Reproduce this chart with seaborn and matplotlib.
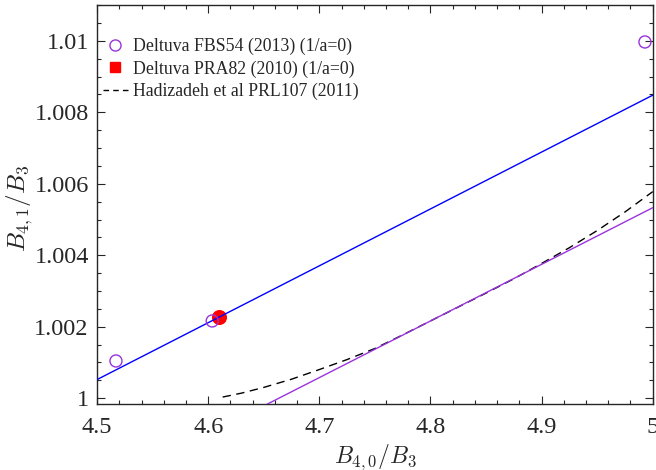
import numpy as np
import pandas as pd
import matplotlib
matplotlib.use("Agg")
import matplotlib.pyplot as plt
from matplotlib.lines import Line2D
from matplotlib.ticker import MultipleLocator, FormatStrFormatter
import seaborn as sns

# ── Data ────────────────────────────────────────────────────────────────────
fbs_x = [4.517, 4.6036, 4.993]
fbs_y = [1.00104, 1.00216, 1.00997]

pra_x = [4.610]
pra_y = [1.00227]

blue_x = [4.5, 5.0]
blue_y = [1.00052, 1.00848]

purple_x = [4.653, 5.0]
purple_y = [0.99983, 1.00533]

had_x = [4.613, 4.63, 4.65, 4.675, 4.70, 4.725, 4.75, 4.775, 4.80,
         4.825, 4.85, 4.875, 4.90, 4.925, 4.95, 4.975, 5.0]
had_y = [1.00003, 1.00014, 1.00030, 1.00053, 1.00080, 1.00108, 1.00139,
         1.00177, 1.00216, 1.00255, 1.00294, 1.00334, 1.00377, 1.00421,
         1.00469, 1.00521, 1.00578]

PURPLE = "#9933DD"
BLUE = "#0000FF"

# ── Style ───────────────────────────────────────────────────────────────────
sns.set_theme(style="ticks")
plt.rcParams["font.family"] = ["Liberation Serif", "DejaVu Serif"]
plt.rcParams["mathtext.fontset"] = "cm"

fig = plt.figure(figsize=(6.56, 4.70), dpi=100)
ax = fig.add_axes([0.148, 0.140, 0.847, 0.849])

sns.lineplot(x=blue_x, y=blue_y, color=BLUE, lw=1.0, ax=ax, zorder=3)
sns.lineplot(x=purple_x, y=purple_y, color=PURPLE, lw=1.0, ax=ax, zorder=3)
sns.lineplot(x=had_x, y=had_y, color="black", lw=1.0, ax=ax, zorder=2,
             linestyle=(0, (6, 4)))
sns.scatterplot(x=pra_x, y=pra_y, marker="o", s=100, color="red",
                edgecolor="red", ax=ax, zorder=2)
sns.scatterplot(x=fbs_x, y=fbs_y, marker="o", s=75, facecolor="none",
                edgecolor=PURPLE, linewidth=1.0, ax=ax, zorder=4)

ax.set_xlim(4.5, 5.0)
ax.set_ylim(0.99983, 1.011)
ax.xaxis.set_major_locator(MultipleLocator(0.1))
ax.xaxis.set_minor_locator(MultipleLocator(0.02))
ax.yaxis.set_major_locator(MultipleLocator(0.002))
ax.yaxis.set_minor_locator(MultipleLocator(0.0005))
ax.xaxis.set_major_formatter(FormatStrFormatter("%g"))
ax.yaxis.set_major_formatter(FormatStrFormatter("%g"))
ax.tick_params(which="both", direction="in", top=True, right=True,
               labelsize=17.5, color="#262626")
ax.tick_params(which="major", length=6, width=0.8)
ax.tick_params(which="minor", length=3, width=0.8)
ax.tick_params(axis="x", pad=9)
ax.tick_params(axis="y", pad=6)
for sp in ax.spines.values():
    sp.set_color("#262626")
    sp.set_linewidth(1.0)

ax.set_xlabel(r"$B_{4,0}/B_3$", fontsize=17, labelpad=3)
ax.set_ylabel(r"$B_{4,1}/B_3$", fontsize=18)
ax.yaxis.set_label_coords(-0.112, 0.49)

handles = [
    Line2D([], [], marker="o", ls="none", mfc="none", mec=PURPLE, ms=8, mew=1.0),
    Line2D([], [], marker="s", ls="none", mfc="red", mec="red", ms=7),
    Line2D([], [], color="black", lw=1.0, ls=(0, (4, 3))),
]
labels = ["Deltuva FBS54 (2013) (1/a=0)",
          "Deltuva PRA82 (2010) (1/a=0)",
          "Hadizadeh et al PRL107 (2011)"]
ax.legend(handles, labels, loc="upper left", frameon=False, fontsize=12.8,
          handlelength=1.4, handletextpad=0.3, labelspacing=0.3,
          borderaxespad=0.3, bbox_to_anchor=(-0.012, 0.95))

fig.savefig("out.png", dpi=100)
